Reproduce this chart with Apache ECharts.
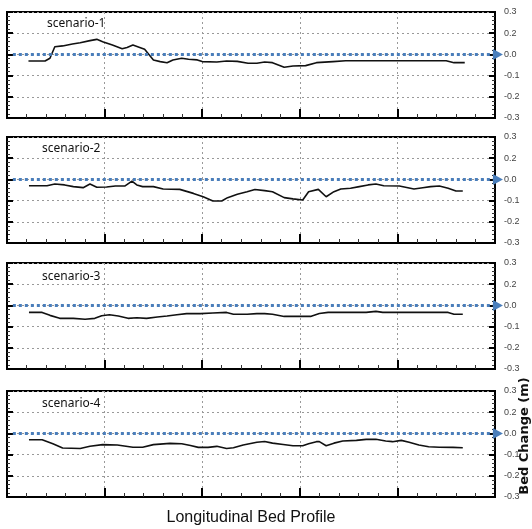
<!DOCTYPE html>
<html>
<head>
<meta charset="utf-8">
<script src="https://cdn.jsdelivr.net/npm/echarts@6/dist/echarts.min.js"></script>
<style>
  html, body { margin: 0; padding: 0; background: #fff; }
  #chart { width: 532px; height: 529px; }
</style>
</head>
<body>
<div id="chart"></div>
<script>
// distance along the reach (0..500) and bed change per scenario
var scenarioNames = ['scenario-1', 'scenario-2', 'scenario-3', 'scenario-4'];
var yTickLabels = ['-0.3', '-0.2', '-0.1', '0.0', '0.2', '0.3'];
var zeroLine = [[6, 0], [503, 0]];

var s1X = [22,39,44,49,57,67,75,85,92,98,108,118,123,129,136,141,150,157,164,170,179,186,195,200,215,225,236,247,256,264,272,284,293,306,317,334,347,368,402,450,458,469];
var s1Y = [-0.031,-0.031,-0.018,0.036,0.040,0.049,0.055,0.065,0.071,0.060,0.044,0.027,0.033,0.044,0.033,0.024,-0.026,-0.034,-0.039,-0.026,-0.018,-0.023,-0.026,-0.034,-0.036,-0.031,-0.033,-0.042,-0.042,-0.036,-0.039,-0.061,-0.055,-0.053,-0.039,-0.034,-0.030,-0.030,-0.030,-0.030,-0.039,-0.039];

var s2X = [22.5,41,49,59,68,78,85,92,102,111,121,128,133,139,150,160,177,191,201,211,220,226,236,246,254,264,272,284,293,303,309,319,327,335,342,352,361,370,378,386,402,417,426,434,443,452,460,467];
var s2Y = [-0.030,-0.030,-0.022,-0.026,-0.034,-0.039,-0.022,-0.037,-0.036,-0.031,-0.031,-0.008,-0.026,-0.034,-0.034,-0.045,-0.047,-0.066,-0.082,-0.102,-0.102,-0.086,-0.070,-0.058,-0.048,-0.053,-0.058,-0.086,-0.092,-0.097,-0.058,-0.047,-0.082,-0.058,-0.045,-0.042,-0.034,-0.026,-0.022,-0.030,-0.031,-0.045,-0.039,-0.034,-0.031,-0.042,-0.055,-0.055];

var s3X = [22.5,36,44,54,68,80,90,97,105,114,124,133,143,154,164,174,184,198,211,225,232,246,256,264,272,284,293,311,320,329,350,368,378,385,402,436,452,458,467];
var s3Y = [-0.033,-0.033,-0.047,-0.061,-0.061,-0.065,-0.061,-0.049,-0.044,-0.050,-0.061,-0.058,-0.061,-0.055,-0.050,-0.044,-0.039,-0.039,-0.036,-0.033,-0.042,-0.042,-0.039,-0.039,-0.042,-0.052,-0.052,-0.052,-0.038,-0.033,-0.033,-0.033,-0.028,-0.033,-0.033,-0.033,-0.033,-0.042,-0.042];

var s4X = [22.5,36,47,57,75,85,98,113,129,139,150,167,179,188,196,206,215,225,232,242,256,264,272,283,293,303,309,317,320,327,335,344,358,368,378,388,395,404,412,422,432,443,457,467];
var s4Y = [-0.030,-0.030,-0.049,-0.069,-0.071,-0.061,-0.053,-0.055,-0.065,-0.065,-0.053,-0.047,-0.049,-0.057,-0.066,-0.066,-0.061,-0.071,-0.068,-0.055,-0.042,-0.038,-0.046,-0.052,-0.058,-0.058,-0.049,-0.039,-0.039,-0.058,-0.046,-0.036,-0.033,-0.028,-0.028,-0.036,-0.039,-0.033,-0.042,-0.055,-0.063,-0.065,-0.066,-0.068];

var seriesX = [s1X, s2X, s3X, s4X];
var seriesY = [s1Y, s2Y, s3Y, s4Y];

// layout
var panelTops = [12, 137, 263, 391];
var panelH = 106;
var labelPos = [[47, 18], [42, 143], [42, 271], [42, 398]];

var myChart = echarts.init(document.getElementById('chart'));

var grids = [], xAxes = [], yAxes = [], series = [], titles = [];
panelTops.forEach(function (top, i) {
    grids.push({
        left: 7, right: 37, top: top, height: panelH,
        show: true, borderColor: '#000', borderWidth: 2, backgroundColor: '#fff'
    });
    xAxes.push({
        type: 'value', gridIndex: i, min: 0, max: 500, interval: 100,
        axisLine: { show: true, onZero: false, lineStyle: { color: '#000', width: 2 } },
        axisTick: { show: true, inside: true, length: 9, lineStyle: { color: '#000', width: 2 } },
        minorTick: { show: true, splitNumber: 5, length: 4, lineStyle: { color: '#333', width: 1 } },
        axisLabel: { show: false },
        splitLine: { show: true, lineStyle: { color: '#999', type: [2, 3], width: 1 } }
    });
    // left axis: ticks only
    yAxes.push({
        type: 'value', gridIndex: i, position: 'left', min: -0.3, max: 0.2, interval: 0.1,
        axisLine: { show: true, lineStyle: { color: '#000', width: 2 } },
        axisTick: { show: true, inside: true, length: 6, lineStyle: { color: '#000', width: 2 } },
        minorTick: { show: true, splitNumber: 5, length: 3, lineStyle: { color: '#333', width: 1 } },
        axisLabel: { show: false },
        splitLine: { show: true, lineStyle: { color: '#999', type: [2, 3], width: 1 } }
    });
    // right axis: labels
    yAxes.push({
        type: 'value', gridIndex: i, position: 'right', min: -0.3, max: 0.2, interval: 0.1,
        axisLine: { show: true, lineStyle: { color: '#000', width: 2 } },
        axisTick: { show: true, inside: true, length: 6, lineStyle: { color: '#000', width: 2 } },
        minorTick: { show: true, splitNumber: 5, length: 3, lineStyle: { color: '#333', width: 1 } },
        axisLabel: {
            show: true, margin: 9, fontSize: 9, color: '#444', fontFamily: 'Liberation Sans',
            formatter: function (v, idx) { return yTickLabels[idx]; }
        },
        splitLine: { show: false }
    });
    var data = seriesX[i].map(function (x, k) { return [x, seriesY[i][k]]; });
    series.push({
        type: 'line', xAxisIndex: i, yAxisIndex: i * 2 + 1, data: data,
        showSymbol: false, symbol: 'none', z: 3,
        lineStyle: { color: '#111', width: 1.6 }
    });
    series.push({
        type: 'line', xAxisIndex: i, yAxisIndex: i * 2 + 1, clip: false, z: 4,
        data: [
            { value: zeroLine[0], symbol: 'none' },
            { value: zeroLine[1], symbol: 'triangle', symbolSize: [11, 10], symbolRotate: -90 }
        ],
        showSymbol: true,
        itemStyle: { color: '#4a7ebb' },
        lineStyle: { color: '#4a7ebb', width: 3, type: [3, 3] }
    });
    titles.push({
        text: scenarioNames[i], left: labelPos[i][0], top: labelPos[i][1], padding: 0,
        textStyle: { fontFamily: 'Noto Sans', fontSize: 12, fontWeight: 'normal', color: '#111' }
    });
});

var option = {
    animation: false,
    title: titles,
    grid: grids,
    xAxis: xAxes,
    yAxis: yAxes,
    series: series,
    graphic: [
        {
            type: 'text', x: 251, y: 518,
            style: { text: 'Longitudinal Bed Profile', font: '16px "Liberation Sans"', fill: '#111', align: 'center', verticalAlign: 'middle' }
        },
        {
            type: 'text', x: 525, y: 436, rotation: Math.PI / 2,
            style: { text: 'Bed Change (m)', font: 'bold 13px "DejaVu Sans"', fill: '#111', align: 'center', verticalAlign: 'middle' }
        }
    ]
};
myChart.setOption(option);
</script>
</body>
</html>
